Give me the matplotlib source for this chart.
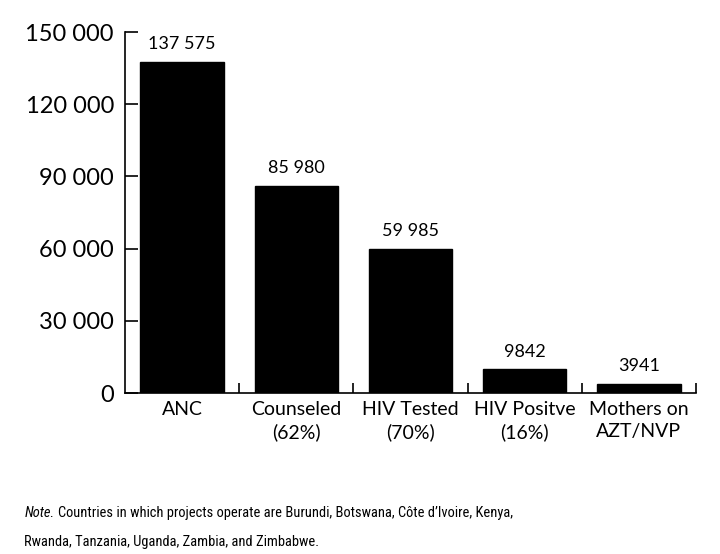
import numpy as np
import matplotlib
matplotlib.use('Agg')
import matplotlib.pyplot as plt
from matplotlib.ticker import FuncFormatter

categories = ['ANC', 'Counseled\n(62%)', 'HIV Tested\n(70%)', 'HIV Positve\n(16%)', 'Mothers on\nAZT/NVP']
values = [137575, 85980, 59985, 9842, 3941]
yticks = [0, 30000, 60000, 90000, 120000, 150000]

note_lead = 'Note.'
note_line1 = 'Countries in which projects operate are Burundi, Botswana, C\u00f4te d\u2019Ivoire, Kenya,'
note_line2 = 'Rwanda, Tanzania, Uganda, Zambia, and Zimbabwe.'

main_font = ['Lato', 'DejaVu Sans']
note_font = ['Roboto Condensed', 'Open Sans Condensed', 'Liberation Sans Narrow', 'DejaVu Sans']


def spaced(v):
    # thousands with a space, short numbers left alone
    v = int(round(v))
    if v < 10000:
        return str(v)
    return f'{v:,}'.replace(',', ' ')


fig = plt.figure(figsize=(7.2, 5.54), dpi=100)
ax = fig.add_axes([0.1736, 0.2906, 0.7931, 0.6516])

xx = np.arange(len(values))
ax.bar(xx, values, width=0.73, color='black', edgecolor='black')

for ii, vv in enumerate(values):
    ax.annotate(spaced(vv), (xx[ii], vv), xytext=(0, 7), textcoords='offset points',
                ha='center', va='bottom', fontsize=13, family=main_font)

ax.set_xlim(-0.5, len(values) - 0.5)
ax.set_ylim(0, 150000)
ax.set_yticks(yticks)
ax.yaxis.set_major_formatter(FuncFormatter(lambda v, p: spaced(v) if v else '0'))
ax.tick_params(axis='y', direction='in', length=9, width=1.2, labelsize=17, pad=8)
for lab in ax.get_yticklabels():
    lab.set_family(main_font)

ax.set_xticks(xx)
ax.set_xticklabels(categories, fontsize=14, family=main_font, linespacing=1.35)
ax.tick_params(axis='x', which='major', length=0, pad=6)
ax.set_xticks(xx + 0.5, minor=True)
ax.tick_params(axis='x', which='minor', direction='in', length=7, width=1.2)

for side in ['top', 'right']:
    ax.spines[side].set_visible(False)
for side in ['left', 'bottom']:
    ax.spines[side].set_linewidth(1.2)

# note under the chart, italic lead-in then the rest of the line
y1 = 1 - 517 / 554
y2 = 1 - 546 / 554
x0 = 0.034
nsize = 11
lead = fig.text(x0, y1, note_lead, fontsize=nsize, family=note_font,
                fontstretch='condensed', style='italic', va='baseline')
fig.canvas.draw()
bb = lead.get_window_extent().transformed(fig.transFigure.inverted())
rest = fig.text(bb.x1 + 0.004, y1, note_line1, fontsize=nsize, family=note_font,
                fontstretch='condensed', va='baseline')
last = fig.text(x0, y2, note_line2, fontsize=nsize, family=note_font,
                fontstretch='condensed', va='baseline')

# size the note so the first line ends near where the printed one does
fig.canvas.draw()
right = rest.get_window_extent().x1 / (fig.dpi * fig.get_figwidth())
scale = (0.71 - x0) / (right - x0)
nsize = nsize * scale
for tt in (lead, rest, last):
    tt.set_fontsize(nsize)
fig.canvas.draw()
bb = lead.get_window_extent().transformed(fig.transFigure.inverted())
rest.set_x(bb.x1 + 0.004)

fig.savefig('out.png', dpi=100)
